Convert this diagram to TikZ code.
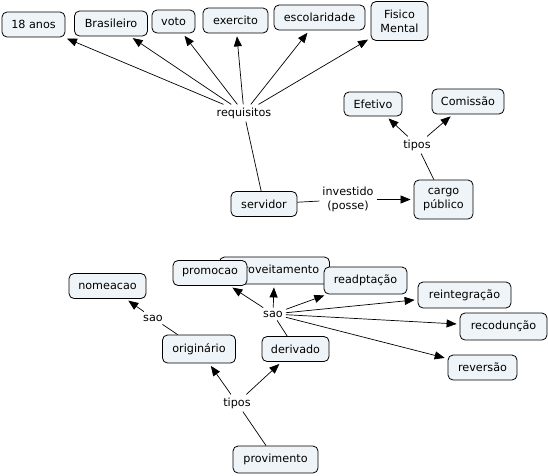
\documentclass[tikz,border=0pt]{standalone}
\usepackage{fontspec}
\setmainfont{DejaVu Sans}
\usetikzlibrary{arrows.meta}
\definecolor{cfill}{HTML}{EEF4F7}
\newcommand{\cmfont}{\fontsize{11.2}{14}\selectfont}
\begin{document}
\begin{tikzpicture}[x=1pt,y=-1pt,
  concept/.style={draw, rounded corners=5pt, fill=cfill, line width=0.8pt,
    inner xsep=3pt, inner ysep=2pt, minimum height=25pt, align=center, font=\cmfont},
  lp/.style={inner sep=3pt, align=center, font=\cmfont, fill=white},
  arr/.style={-{Triangle[length=10pt,width=8pt]}, line width=0.7pt, shorten >=3pt},
  ln/.style={line width=0.7pt}]
\useasboundingbox (0,0) rectangle (548,475);

% top part
\node[concept, minimum width=63pt] (anos) at (33.5,24.5) {18 anos};
\node[concept, minimum width=73pt] (bras) at (111,23.5) {Brasileiro};
\node[concept, minimum width=43pt, minimum height=23pt] (voto) at (173.5,21.5) {voto};
\node[concept, minimum width=65pt] (exer) at (235.5,20.5) {exercito};
\node[concept, minimum width=91pt] (esco) at (319.5,17.5) {escolaridade};
\node[concept, minimum width=57pt, minimum height=39pt] (fisi) at (399.5,21) {Fisico\\Mental};

\node[lp] (req) at (244,113) {requisitos};

\node[concept, minimum width=58pt, minimum height=24pt] (efet) at (373,104) {Efetivo};
\node[concept, minimum width=72pt] (comi) at (468,101.5) {Comissão};
\node[lp] (tip1) at (417,145) {tipos};
\node[concept, minimum width=59pt, minimum height=39pt] (cargo) at (443.5,199.5) {cargo\\público};
\node[concept, minimum width=66pt] (serv) at (264,204) {servidor};
\node[lp] (inv) at (348,199.5) {investido\\(posse)};

\draw[ln] (serv) -- (req);
\foreach \t in {anos,bras,voto,exer,esco,fisi} \draw[arr] (req) -- (\t);
\draw[ln] (serv) -- (inv);
\draw[arr] (inv) -- (cargo);
\draw[ln] (cargo) -- (tip1);
\draw[arr] (tip1) -- (efet);
\draw[arr] (tip1) -- (comi);

% bottom part
\node[concept, minimum width=110pt, minimum height=27pt] (apro) at (274.5,270.5) {aproveitamento};
\node[concept, minimum width=74pt, minimum height=25pt] (prom) at (210,273) {promocao};
\node[concept, minimum width=83pt, minimum height=27pt] (read) at (365.5,280.5) {readptação};
\node[concept, minimum width=77pt, minimum height=25pt] (nome) at (107.5,286) {nomeacao};
\node[concept, minimum width=93pt, minimum height=26pt] (rein) at (464.5,295) {reintegração};
\node[concept, minimum width=87pt, minimum height=27pt] (reco) at (503.5,326.5) {recodunção};
\node[concept, minimum width=69pt, minimum height=25pt] (reve) at (482.5,367.5) {reversão};
\node[concept, minimum width=73pt, minimum height=28pt] (orig) at (199,349) {originário};
\node[concept, minimum width=67pt, minimum height=25pt] (deri) at (295.5,349) {derivado};
\node[concept, minimum width=85pt, minimum height=27pt] (prov) at (275.5,459.5) {provimento};

\node[lp] (sao1) at (153,318) {sao};
\node[lp] (sao2) at (273,314) {sao};
\node[lp] (tip2) at (237,403) {tipos};

\draw[ln] (prov) -- (tip2);
\draw[arr] (tip2) -- (orig);
\draw[arr] (tip2) -- (deri);
\draw[ln] (orig) -- (sao1);
\draw[arr] (sao1) -- (nome);
\draw[ln] (deri) -- (sao2);
\foreach \t in {prom,apro,read,rein,reco,reve} \draw[arr] (sao2) -- (\t);
\end{tikzpicture}
\end{document}
